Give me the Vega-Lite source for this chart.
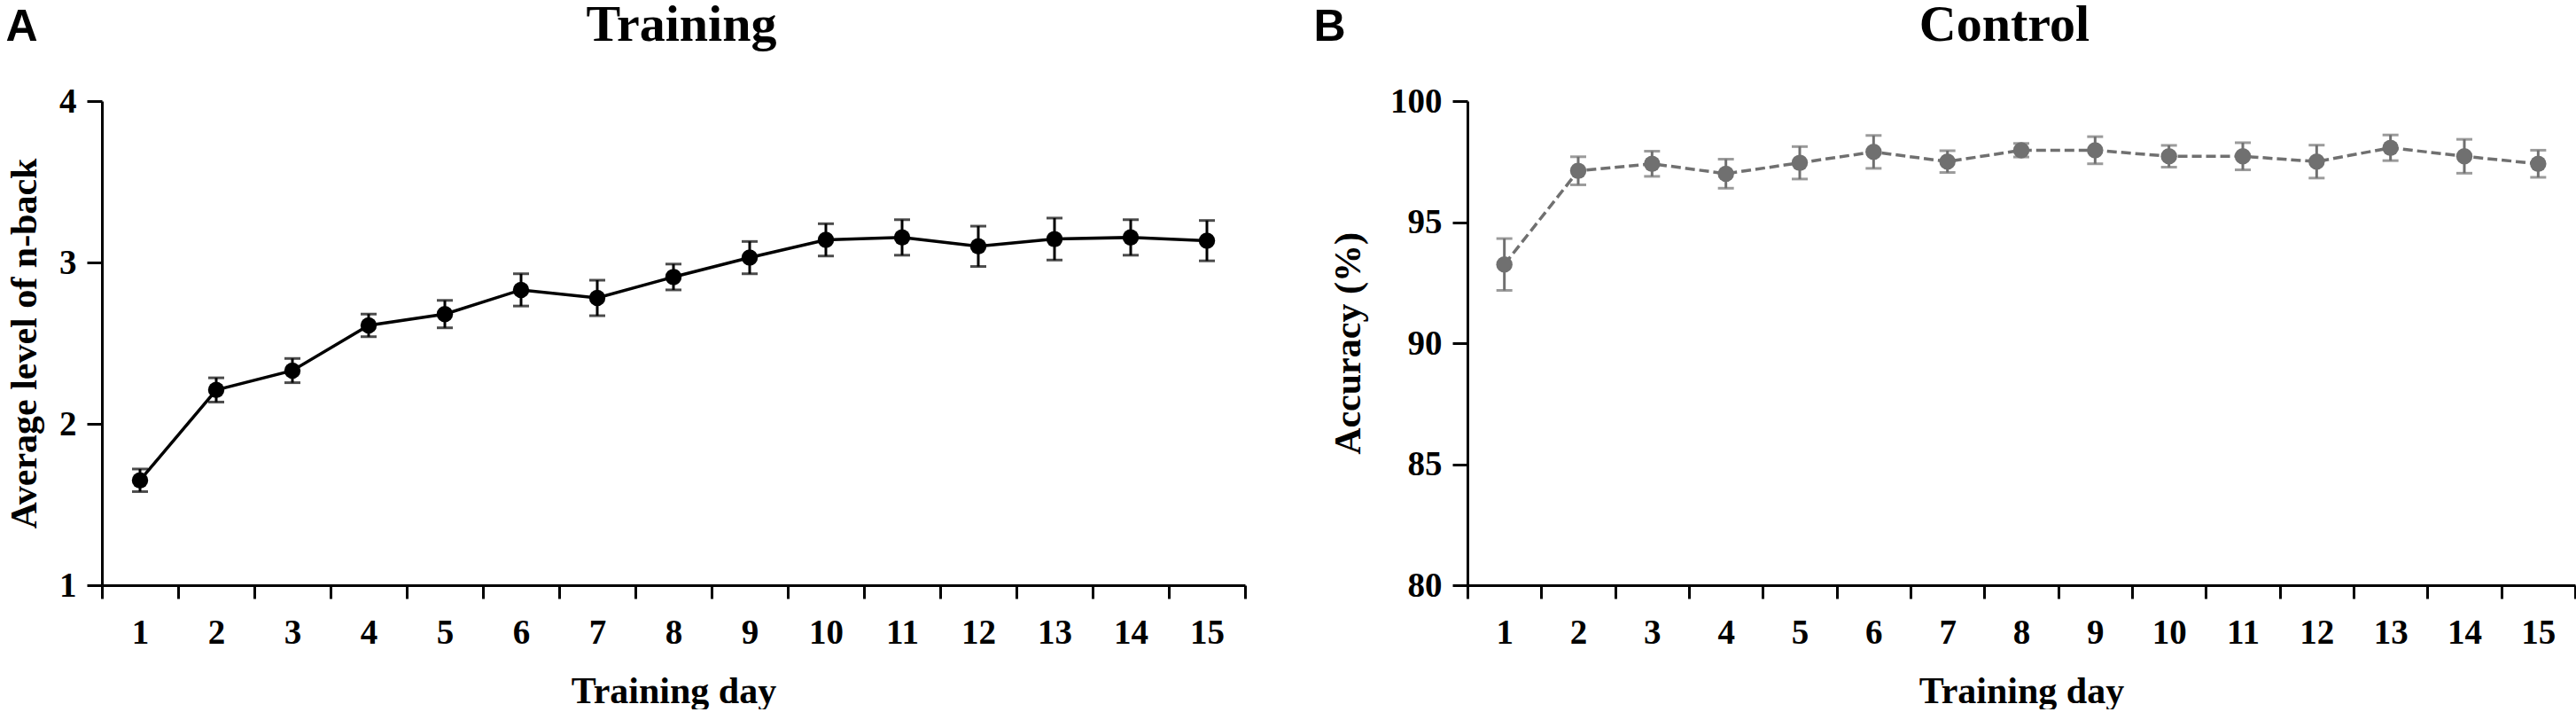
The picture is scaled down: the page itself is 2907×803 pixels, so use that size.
{
  "$schema": "https://vega.github.io/schema/vega-lite/v6.json",
  "background": "white",
  "padding": {"left": 6, "top": 0, "right": 0, "bottom": 0},
  "spacing": 34,
  "datasets": {
    "training": [
      {"day": 1, "mean": 1.65, "err": 0.07},
      {"day": 2, "mean": 2.21, "err": 0.075},
      {"day": 3, "mean": 2.33, "err": 0.075},
      {"day": 4, "mean": 2.61, "err": 0.07},
      {"day": 5, "mean": 2.68, "err": 0.085},
      {"day": 6, "mean": 2.83, "err": 0.1},
      {"day": 7, "mean": 2.78, "err": 0.11},
      {"day": 8, "mean": 2.91, "err": 0.08},
      {"day": 9, "mean": 3.03, "err": 0.1},
      {"day": 10, "mean": 3.14, "err": 0.1},
      {"day": 11, "mean": 3.155, "err": 0.11},
      {"day": 12, "mean": 3.1, "err": 0.125},
      {"day": 13, "mean": 3.145, "err": 0.13},
      {"day": 14, "mean": 3.155, "err": 0.11},
      {"day": 15, "mean": 3.135, "err": 0.125}
    ],
    "control": [
      {"day": 1, "mean": 93.25, "err": 1.07},
      {"day": 2, "mean": 97.12, "err": 0.58},
      {"day": 3, "mean": 97.41, "err": 0.52},
      {"day": 4, "mean": 97.0, "err": 0.6},
      {"day": 5, "mean": 97.45, "err": 0.67},
      {"day": 6, "mean": 97.9, "err": 0.68},
      {"day": 7, "mean": 97.5, "err": 0.45},
      {"day": 8, "mean": 97.97, "err": 0.28},
      {"day": 9, "mean": 97.97, "err": 0.56},
      {"day": 10, "mean": 97.72, "err": 0.45},
      {"day": 11, "mean": 97.72, "err": 0.56},
      {"day": 12, "mean": 97.5, "err": 0.68},
      {"day": 13, "mean": 98.07, "err": 0.53},
      {"day": 14, "mean": 97.72, "err": 0.7},
      {"day": 15, "mean": 97.41, "err": 0.56}
    ]
  },
  "hconcat": [
    {
      "title": {"text": "A", "anchor": "start", "frame": "bounds", "font": "Liberation Sans", "fontSize": 50, "fontWeight": "bold", "dy": 60},
      "hconcat": [
        {
          "width": 1290,
          "height": 546,
          "data": {"name": "training"},
          "title": {"text": "Training", "anchor": "middle", "fontSize": 58, "offset": 37, "dx": 9},
          "encoding": {
            "x": {
              "field": "day",
              "type": "quantitative",
              "scale": {"domain": [0.5, 15.5], "nice": false, "zero": false},
              "axis": {
                "title": "Training day",
                "values": [0.5, 1.5, 2.5, 3.5, 4.5, 5.5, 6.5, 7.5, 8.5, 9.5, 10.5, 11.5, 12.5, 13.5, 14.5, 15.5],
                "labelExpr": "datum.value > 15 ? '' : '' + (datum.value + 0.5)",
                "labelOffset": 43
              }
            },
            "y": {
              "field": "mean",
              "type": "quantitative",
              "scale": {"domain": [1, 4], "nice": false, "zero": false},
              "axis": {"title": "Average level of n-back", "values": [1, 2, 3, 4], "titlePadding": 17}
            }
          },
          "layer": [
            {"mark": {"type": "line", "color": "#000000", "strokeWidth": 3.5}},
            {
              "mark": {"type": "errorbar", "ticks": true, "size": 18, "thickness": 3, "color": "#000000"},
              "encoding": {"yError": {"field": "err"}}
            },
            {"mark": {"type": "circle", "size": 340, "opacity": 1, "color": "#000000"}}
          ]
        }
      ]
    },
    {
      "title": {"text": "B", "anchor": "start", "frame": "bounds", "font": "Liberation Sans", "fontSize": 50, "fontWeight": "bold", "dy": 60, "dx": -18},
      "hconcat": [
        {
          "width": 1250,
          "height": 546,
          "data": {"name": "control"},
          "title": {"text": "Control", "anchor": "middle", "fontSize": 58, "offset": 37, "dx": -19},
          "encoding": {
            "x": {
              "field": "day",
              "type": "quantitative",
              "scale": {"domain": [0.5, 15.5], "nice": false, "zero": false},
              "axis": {
                "title": "Training day",
                "values": [0.5, 1.5, 2.5, 3.5, 4.5, 5.5, 6.5, 7.5, 8.5, 9.5, 10.5, 11.5, 12.5, 13.5, 14.5, 15.5],
                "labelExpr": "datum.value > 15 ? '' : '' + (datum.value + 0.5)",
                "labelOffset": 41.7
              }
            },
            "y": {
              "field": "mean",
              "type": "quantitative",
              "scale": {"domain": [80, 100], "nice": false, "zero": false},
              "axis": {"title": "Accuracy (%)", "values": [80, 85, 90, 95, 100], "titlePadding": 25}
            }
          },
          "layer": [
            {"mark": {"type": "line", "color": "#707070", "strokeWidth": 3.5, "strokeDash": [11, 5]}},
            {
              "mark": {"type": "errorbar", "ticks": true, "size": 18, "thickness": 3, "color": "#707070"},
              "encoding": {"yError": {"field": "err"}}
            },
            {"mark": {"type": "circle", "size": 340, "opacity": 1, "color": "#707070"}}
          ]
        }
      ]
    }
  ],
  "config": {
    "font": "Liberation Serif",
    "view": {"stroke": null},
    "title": {"font": "Liberation Serif", "fontWeight": "bold", "color": "#000000"},
    "axis": {
      "grid": false,
      "domainColor": "#000000",
      "domainWidth": 3,
      "tickColor": "#000000",
      "tickWidth": 3,
      "labelFont": "Liberation Serif",
      "labelFontWeight": "bold",
      "labelFontSize": 39,
      "labelColor": "#000000",
      "labelFlush": false,
      "labelOverlap": false,
      "labelBound": false,
      "titleFont": "Liberation Serif",
      "titleFontWeight": "bold",
      "titleFontSize": 42,
      "titleColor": "#000000"
    },
    "axisX": {"tickSize": 15, "labelPadding": 19, "titlePadding": 26},
    "axisY": {"tickSize": 17, "labelPadding": 12}
  }
}
